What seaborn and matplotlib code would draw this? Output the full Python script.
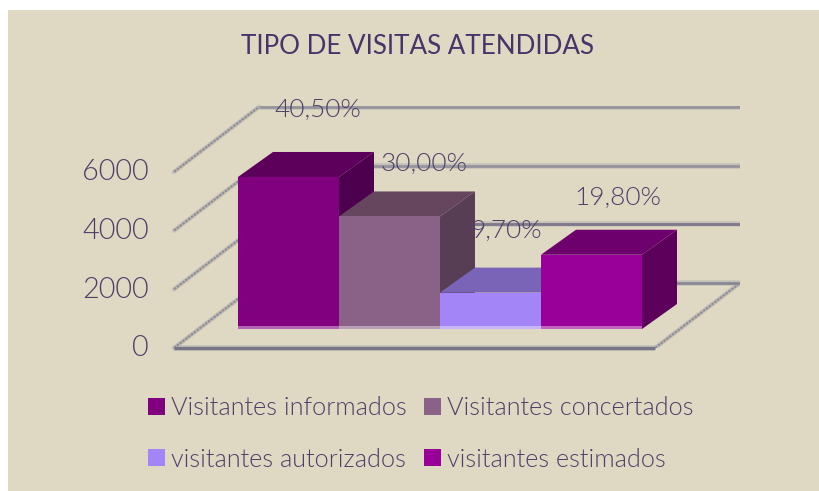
import numpy as np
import pandas as pd
import seaborn as sns
import matplotlib
matplotlib.use("Agg")
import matplotlib.pyplot as plt
from matplotlib.patches import Polygon, Rectangle

# DATA
categorias = ["Visitantes informados", "Visitantes concertados",
              "visitantes autorizados", "visitantes estimados"]
visitas = [5180, 3835, 1240, 2530]
rotulos = ["40,50%", "30,00%", "9,70%", "19,80%"]
ticks_y = [0, 2000, 4000, 6000]

# colors: front, top, side
cor_frente = ["#800080", "#8a6288", "#a385f8", "#990099"]
cor_topo = ["#5c005c", "#66465f", "#7964b8", "#6e006e"]
cor_lado = ["#4d004d", "#573e55", "#5e4e90", "#5c005c"]

FUNDO = "#dfd9c3"
TEXTO = "#4f3f68"
PESO = 300

# LAYOUT (pixels of the 820x491 picture)
W, H = 820, 491
PX_X = 101.0        # one category
PX_Y = 58.7 / 2000  # one visitor
bar_left, bar_base = 238, 329
# depth of the bars and of the floor, in data units
prof_x, prof_y = 35 / PX_X, 25 / PX_Y
chao_x, chao_y = 85 / PX_X, 65 / PX_Y
chao_y0 = -(348 - bar_base) / PX_Y
chao_x0 = -0.5 - (bar_left - 174) / PX_X
chao_x1 = chao_x0 + 481 / PX_X

# offset of the percent labels from the top of each bar (pixels)
rotulo_off = [(29, 67), (34, 53), (16, 62), (26, 57)]

sns.set_theme(style="white")
plt.rcParams["font.family"] = ["Lato", "DejaVu Sans"]

fig = plt.figure(figsize=(W / 100, H / 100), dpi=100, facecolor="white")
fig.add_artist(Rectangle((8 / W, 0), 1, 1 - 10 / H, transform=fig.transFigure,
                         facecolor=FUNDO, edgecolor="none", zorder=-5))

ax = fig.add_axes([174 / W, 1 - 348 / H, (740 - 174) / W, (348 - 106) / H])
ax.patch.set_visible(False)

df = pd.DataFrame({"categoria": categorias, "visitas": visitas})
sns.barplot(data=df, x="categoria", y="visitas", hue="categoria",
            palette=cor_frente, width=1, saturation=1, dodge=False,
            legend=False, ax=ax)
ax.set_xlim(chao_x0, chao_x0 + 566 / PX_X)
ax.set_ylim(chao_y0, chao_y0 + 242 / PX_Y)

# walls and floor
for v in ticks_y:
    y = chao_y0 + v
    cor = {0: "#8b8794", 2000: "#7e7888", 4000: "#96939c", 6000: "#96939c"}[v]
    ax.plot([chao_x0 + chao_x, chao_x1 + chao_x], [y + chao_y, y + chao_y],
            color="#c4c1b8", lw=4, zorder=1, solid_capstyle="butt")
    ax.plot([chao_x0 + chao_x, chao_x1 + chao_x], [y + chao_y, y + chao_y],
            color=cor, lw=2, zorder=1.1, solid_capstyle="butt")
    ax.plot([chao_x0, chao_x0 + chao_x], [y, y + chao_y],
            color="#c4c1b8", lw=3.2, zorder=1, clip_on=False)
    ax.plot([chao_x0, chao_x0 + chao_x], [y, y + chao_y],
            color="#918e96", lw=1.6, zorder=1.1, ls=(0, (1.2, 0.4)), clip_on=False)
ax.plot([chao_x1, chao_x1 + chao_x], [chao_y0, chao_y0 + chao_y],
        color="#c4c1b8", lw=3.2, zorder=1)
ax.plot([chao_x1, chao_x1 + chao_x], [chao_y0, chao_y0 + chao_y],
        color="#918e96", lw=1.6, zorder=1.1, ls=(0, (1.2, 0.4)))
ax.plot([chao_x0, chao_x1], [chao_y0, chao_y0], color="#c4c1b8", lw=4, zorder=1,
        clip_on=False, solid_capstyle="butt")
ax.plot([chao_x0, chao_x1], [chao_y0, chao_y0], color="#7a7585", lw=2.4, zorder=1.1,
        clip_on=False, solid_capstyle="butt")

# fake 3D on top of the seaborn bars, left to right so the next bar covers the side
for i, p in enumerate(ax.patches):
    x0, x1 = p.get_x(), p.get_x() + p.get_width()
    topo = p.get_height()
    z = 3 + i
    p.set_zorder(z + 0.2)
    p.set_edgecolor("none")
    ax.add_patch(Polygon([(x1, 0), (x1 + prof_x, prof_y), (x1 + prof_x, topo + prof_y), (x1, topo)],
                         facecolor=cor_lado[i], edgecolor="none", zorder=z))
    ax.add_patch(Polygon([(x0, topo), (x0 + prof_x, topo + prof_y), (x1 + prof_x, topo + prof_y), (x1, topo)],
                         facecolor=cor_topo[i], edgecolor="none", zorder=z + 0.1))
    # pale strip at the foot of the bar
    ax.add_patch(Rectangle((x0, 0), x1 - x0, 3 / PX_Y, facecolor="white", alpha=0.4,
                           edgecolor="none", zorder=z + 0.3))
    ax.annotate(rotulos[i], xy=((x0 + x1) / 2, topo), xytext=rotulo_off[i],
                textcoords="offset pixels", ha="center", va="center",
                fontsize=18.8, fontweight=PESO, color=TEXTO, zorder=20,
                annotation_clip=False)

# y axis
ax.set_yticks([chao_y0 + 2 / PX_Y + v for v in ticks_y], [str(v) for v in ticks_y])
ax.set_xticks([])
ax.set_xlabel("")
ax.set_ylabel("")
ax.tick_params(axis="y", length=0, pad=18, labelsize=20.8, labelcolor=TEXTO)
for t in ax.get_yticklabels():
    t.set_fontweight(PESO)
sns.despine(ax=ax, left=True, bottom=True)

fig.text(418 / W, 1 - 47 / H, "TIPO DE VISITAS ATENDIDAS", ha="center", va="center",
         fontsize=18.7, color="#46356a")

# legend, matplotlib fills by column
ordem = [0, 2, 1, 3]
handles = [Rectangle((0, 0), 1, 1, facecolor=cor_frente[i], edgecolor="none") for i in ordem]
fig.legend(handles, [categorias[i] for i in ordem], ncol=2, frameon=False,
           loc="center left", bbox_to_anchor=(148 / W, 1 - 434 / H),
           labelcolor=TEXTO, prop={"size": 18.2, "weight": PESO},
           borderpad=0, borderaxespad=0,
           handlelength=0.66, handleheight=0.66, handletextpad=0.25,
           columnspacing=0.7, labelspacing=1.08)

fig.savefig("out.png", dpi=100)
